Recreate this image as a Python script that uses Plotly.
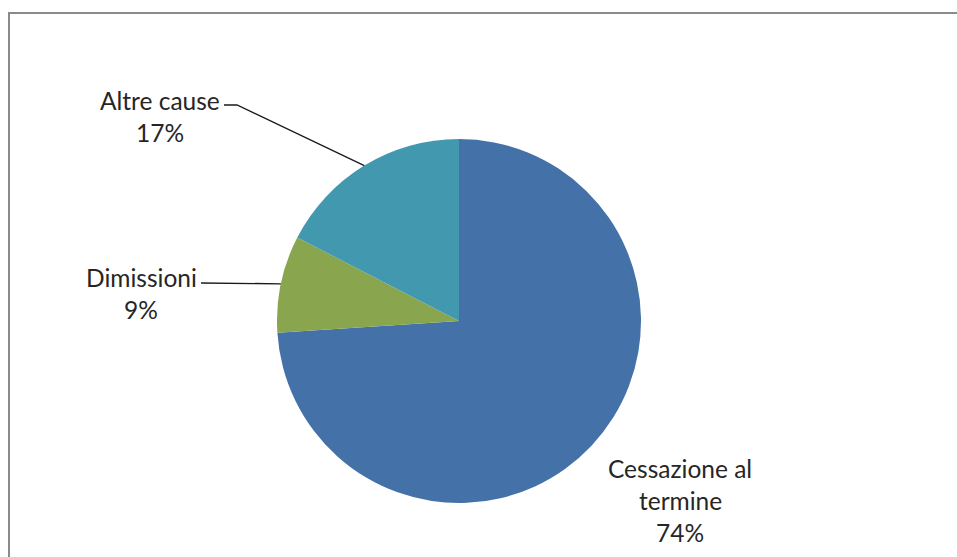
import math
import plotly.graph_objects as go

W, H = 957, 557

labels = ["Cessazione al termine", "Dimissioni", "Altre cause"]
values = [73.9, 8.6, 17.4]
colors = ["#4472A8", "#89A54E", "#4198AF"]

# label text lines / positions (pixel coordinates of the label centres)
label_lines = [["Cessazione al", "termine"], ["Dimissioni"], ["Altre cause"]]
label_pos = [(680, 468), (141, 277), (160, 101)]
leader_start = [None, (201, 283), (224, 105)]
leader_knee = [None, None, (237, 105)]

CX, CY, R = 459, 321, 182


def px(x):
    return x / W


def py(y):
    return 1 - y / H


fig = go.Figure()
fig.add_trace(go.Pie(
    labels=labels,
    values=values,
    sort=False,
    direction="clockwise",
    rotation=0,
    textinfo="none",
    hoverinfo="label+percent",
    marker=dict(colors=colors, line=dict(width=0)),
    showlegend=False,
    domain=dict(x=[px(CX - R), px(CX + R)], y=[py(CY + R), py(CY - R)]),
))

total = sum(values)
font = dict(family="Lato", size=24.5, color="#262626")
annotations = []
shapes = []
cum = 0.0
for i, v in enumerate(values):
    mid = (cum + v / 2) / total
    cum += v
    pct = round(v / total * 100)
    lx, ly = label_pos[i]
    lines = label_lines[i] + [f"{pct}%"]
    for k, line in enumerate(lines):
        yy = ly + k * 32
        annotations.append(dict(
            x=px(lx), y=py(yy), xref="paper", yref="paper",
            text=line, showarrow=False, font=font,
            xanchor="center", yanchor="middle",
        ))
    if leader_start[i] is not None:
        ang = mid * 2 * math.pi
        ex = CX + R * math.sin(ang)
        ey = CY - R * math.cos(ang)
        pts = [leader_start[i]]
        if leader_knee[i] is not None:
            pts.append(leader_knee[i])
        pts.append((ex, ey))
        path = "M " + " L ".join(f"{px(a)},{py(b)}" for a, b in pts)
        shapes.append(dict(type="path", xref="paper", yref="paper", path=path,
                           line=dict(color="#1a1a1a", width=1.3)))

# chart border
shapes.append(dict(type="rect", xref="paper", yref="paper",
                   x0=px(9), x1=px(W + 20), y0=py(H + 20), y1=py(13),
                   line=dict(color="#8a8a8a", width=2), layer="above"))

fig.update_layout(
    width=W, height=H,
    margin=dict(l=0, r=0, t=0, b=0),
    paper_bgcolor="white", plot_bgcolor="white",
    annotations=annotations, shapes=shapes,
)

fig.write_html("out.html", config={"displayModeBar": False},
               post_script="document.body.style.margin='0';document.body.style.overflow='hidden';")
